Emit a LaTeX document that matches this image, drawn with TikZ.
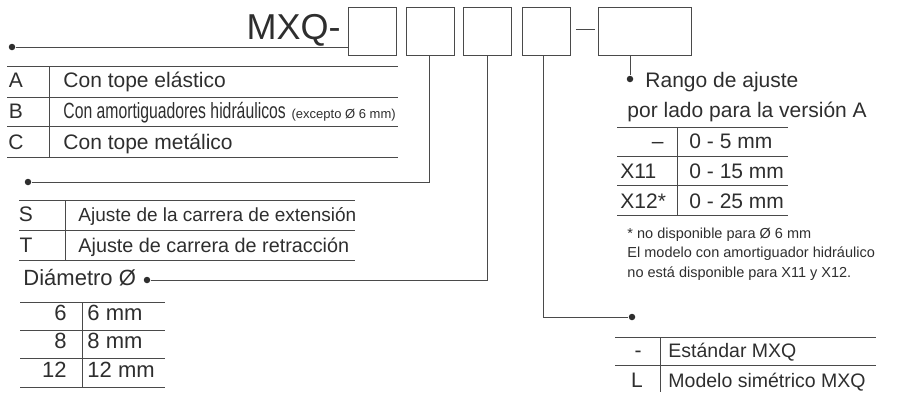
\documentclass[tikz,border=0pt]{standalone}
\usepackage{fontspec}
\setmainfont{Liberation Sans}
\usepackage{graphicx}
\usepackage{tikz}
\usetikzlibrary{positioning}
\definecolor{inkblack}{HTML}{2E2E2E}
\definecolor{linegray}{HTML}{4A4A4A}

\begin{document}
\begin{tikzpicture}[x=1pt, y=-1pt, line width=0.9pt, linegray,
    codebox/.style={draw, linegray, minimum width=48pt, minimum height=48pt, inner sep=0, anchor=north west},
    txt/.style={inner sep=0, anchor=base west, inkblack, font=\fontsize{21}{25}\selectfont},
    keytxt/.style={txt, anchor=base},
    midtxt/.style={txt, font=\fontsize{19}{23}\selectfont},
    bigtxt/.style={txt, font=\fontsize{22}{26}\selectfont},
    notetxt/.style={txt, font=\fontsize{14.5}{17}\selectfont},
    bullet/.style={circle, fill=inkblack, inner sep=0, minimum size=6.5pt}]
    \useasboundingbox (0,0) rectangle (904,392);

    % code boxes
    \node[txt, anchor=base east, font=\fontsize{36}{40}\selectfont] (mxq) at (341,39) {MXQ-};
    \node[codebox] (box1) at (348,7) {};
    \node[codebox] (box2) at (406,7) {};
    \node[codebox] (box3) at (463,7) {};
    \node[codebox] (box4) at (522,7) {};
    \node[codebox, minimum width=93pt] (box5) at (598,7) {};
    \draw ([xshift=5pt, yshift=2pt]box4.east) -- ([xshift=-3pt, yshift=2pt]box5.west);

    % leader dots and lines
    \node[bullet] (dotA) at (12,47) {};
    \node[bullet] (dotB) at (28,182) {};
    \node[bullet] (dotC) at (147,280) {};
    \node[bullet] (dotD) at (632,317) {};
    \node[bullet] (dotE) at (630,79) {};
    \draw (dotA) -- (dotA -| box1.west);
    \draw ([xshift=-1pt]box2.south) |- (dotB);
    \draw (box3.south) |- (dotC);
    \draw ([xshift=-3pt]box4.south) |- (dotD);
    \draw (dotE |- box5.south) -- (dotE);

    % stop type
    \foreach \y in {66,97,126,157} \draw (7,\y) -- (398,\y);
    \draw (49,66) -- (49,157);
    \node[keytxt] (keyA) at (16,87) {A};
    \node[keytxt] (keyB) at (16,118) {B};
    \node[keytxt] (keyC) at (16,149) {C};
    \node[txt] (rowA) at (63,87) {Con tope elástico};
    \node[txt] (rowB) at (63,118) {\scalebox{0.75}[1.05]{Con amortiguadores hidráulicos} {\fontsize{13}{15}\selectfont (excepto Ø 6 mm)}};
    \node[txt] (rowC) at (63,149) {Con tope metálico};

    % adjustment side
    \foreach \y in {200,230,260} \draw (19,\y) -- (355,\y);
    \draw (65,200) -- (65,260);
    \node[keytxt] (keyS) at (26,221.5) {S};
    \node[keytxt] (keyT) at (26,252) {T};
    \node[midtxt] (rowS) at (78,221.5) {Ajuste de la carrera de extensión};
    \node[midtxt, font=\fontsize{19.8}{23}\selectfont] (rowT) at (78,252) {Ajuste de carrera de retracción};

    % bore size
    \node[bigtxt] (diam) at (23,285) {Diámetro Ø};
    \foreach \y in {302,330,358,387} \draw (20,\y) -- (165,\y);
    \draw (82,302) -- (82,387);
    \node[bigtxt, anchor=base east] (key6) at (67,320) {6};
    \node[bigtxt, anchor=base east] (key8) at (67,348) {8};
    \node[bigtxt, anchor=base east] (key12) at (67,377) {12};
    \node[bigtxt] (row6) at (87,320) {6 mm};
    \node[bigtxt] (row8) at (87,348) {8 mm};
    \node[bigtxt] (row12) at (87,377) {12 mm};

    % adjustment range
    \node[txt] (range1) at (645,87) {Rango de ajuste};
    \node[txt] (range2) at (627,117) {por lado para la versión A};
    \foreach \y in {127,156,185,215} \draw (617,\y) -- (788,\y);
    \draw (677,127) -- (677,215);
    \node[txt, anchor=base east] (keyN) at (664,148) {–};
    \node[txt] (keyX11) at (620,178) {X11};
    \node[txt] (keyX12) at (620,208) {X12*};
    \node[txt] (rowN) at (689,148) {0 - 5 mm};
    \node[txt] (rowX11) at (689,178) {0 - 15 mm};
    \node[txt] (rowX12) at (689,208) {0 - 25 mm};
    \node[notetxt] (note1) at (627,238) {* no disponible para Ø 6 mm};
    \node[notetxt] (note2) at (627,257.5) {El modelo con amortiguador hidráulico};
    \node[notetxt] (note3) at (627,277) {no está disponible para X11 y X12.};

    % body option
    \foreach \y in {337,365} \draw (615,\y) -- (876,\y);
    \draw (660,337) -- (660,392);
    \node[keytxt] (keyStd) at (638,357) {-};
    \node[keytxt] (keyL) at (637,387) {L};
    \node[midtxt, font=\fontsize{19.5}{23}\selectfont] (rowStd) at (668,357) {Estándar MXQ};
    \node[midtxt, font=\fontsize{19.5}{23}\selectfont] (rowL) at (668,387) {Modelo simétrico MXQ};
  \end{tikzpicture}
\end{document}
